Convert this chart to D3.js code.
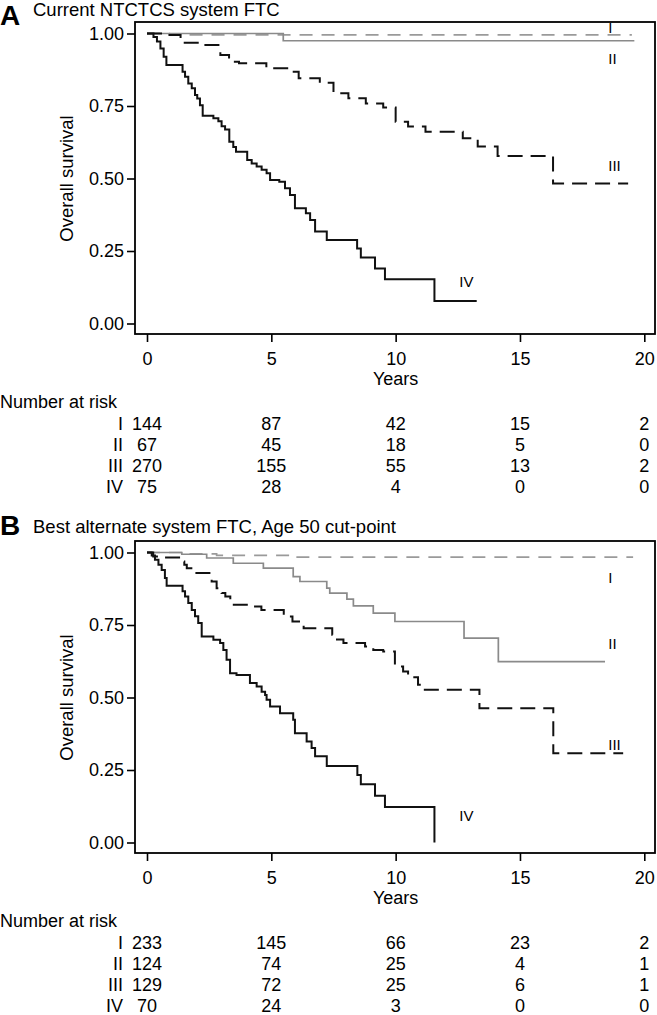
<!DOCTYPE html>
<html><head><meta charset="utf-8">
<script src="https://cdn.jsdelivr.net/npm/d3@7"></script>
<style>
html,body{margin:0;padding:0;background:#fff;}
svg{display:block;}
text{font-family:"Liberation Sans",Arial,Helvetica,sans-serif;fill:#000;}
</style></head><body>
<svg id="c" width="657" height="1015"></svg>
<script>
// ---- data ----
const yearTicks = [0, 5, 10, 15, 20];
const survTicks = [0, 0.25, 0.5, 0.75, 1];
const groups = ["I", "II", "III", "IV"];
const titleA = "Current NTCTCS system FTC";
const titleB = "Best alternate system FTC, Age 50 cut-point";
const xTitle = "Years";
const yTitle = "Overall survival";
const riskTitle = "Number at risk";

// Kaplan–Meier steps: [years, survival]
const A_I = [[0,1],[0.9,0.995],[19.5,0.995]];
const A_II = [[0,1],[5.48,0.975],[19.6,0.975]];
const A_III = [[0,1],[0.8,0.995],[1.35,0.968],[2.1,0.96],[2.95,0.926],[3.3,0.903],[3.7,0.897],[4.8,0.88],[5.75,0.868],[6.1,0.846],[6.95,0.83],[7.5,0.794],[8.1,0.777],[8.8,0.759],[9.5,0.745],[10.0,0.696],[10.5,0.679],[11.2,0.661],[12.7,0.639],[13.3,0.61],[14.1,0.578],[16.33,0.483],[19.35,0.483]];
const A_IV = [[0,1],[0.26,0.988],[0.4,0.972],[0.54,0.948],[0.67,0.92],[0.78,0.891],[1.43,0.868],[1.53,0.851],[1.66,0.828],[1.8,0.811],[1.93,0.788],[2.02,0.776],[2.13,0.753],[2.24,0.716],[2.67,0.708],[2.87,0.697],[3.0,0.68],[3.14,0.669],[3.31,0.627],[3.47,0.609],[3.58,0.592],[4.03,0.564],[4.21,0.552],[4.41,0.541],[4.61,0.53],[4.81,0.518],[4.95,0.495],[5.32,0.489],[5.55,0.466],[5.75,0.443],[5.95,0.397],[6.39,0.38],[6.56,0.357],[6.76,0.317],[7.23,0.288],[8.45,0.259],[8.6,0.228],[9.17,0.19],[9.57,0.153],[11.56,0.078],[13.26,0.078]];

const B_I = [[0,1],[1.5,0.995],[2.8,0.99],[5.8,0.984],[19.55,0.984]];
const B_II = [[0,1],[1.4,0.994],[2.4,0.981],[3.47,0.963],[4.68,0.946],[5.88,0.917],[6.15,0.9],[7.23,0.877],[7.35,0.86],[8.04,0.839],[8.3,0.816],[9.1,0.791],[9.97,0.762],[12.75,0.705],[14.13,0.624],[18.42,0.624]];
const B_III = [[0,1],[0.25,0.986],[0.55,0.983],[1.39,0.969],[1.5,0.958],[1.6,0.946],[1.9,0.929],[2.6,0.9],[2.8,0.877],[3.0,0.86],[3.15,0.848],[3.35,0.82],[4.2,0.814],[4.6,0.802],[5.5,0.779],[5.85,0.762],[6.3,0.739],[7.45,0.716],[7.6,0.70],[7.9,0.688],[8.77,0.676],[9.1,0.664],[9.5,0.659],[9.97,0.607],[10.3,0.59],[10.5,0.57],[10.9,0.544],[11.1,0.527],[13.37,0.463],[16.34,0.308],[19.15,0.308]];
const B_IV = [[0,1],[0.19,0.99],[0.32,0.975],[0.46,0.958],[0.59,0.94],[0.72,0.912],[0.79,0.885],[1.43,0.866],[1.53,0.848],[1.66,0.826],[1.8,0.802],[1.93,0.78],[2.06,0.757],[2.2,0.71],[2.67,0.699],[2.94,0.688],[3.07,0.664],[3.2,0.63],[3.34,0.584],[3.6,0.578],[4.14,0.55],[4.41,0.538],[4.61,0.52],[4.75,0.509],[4.81,0.492],[4.95,0.469],[5.35,0.446],[5.88,0.423],[5.95,0.377],[6.42,0.348],[6.62,0.326],[6.76,0.297],[7.23,0.264],[8.46,0.233],[8.6,0.201],[9.17,0.161],[9.57,0.122],[11.56,0]];

// Number at risk at 0,5,10,15,20 years
const riskA_I = [144, 87, 42, 15, 2];
const riskA_II = [67, 45, 18, 5, 0];
const riskA_III = [270, 155, 55, 13, 2];
const riskA_IV = [75, 28, 4, 0, 0];
const riskB_I = [233, 145, 66, 23, 2];
const riskB_II = [124, 74, 25, 4, 1];
const riskB_III = [129, 72, 25, 6, 1];
const riskB_IV = [70, 24, 3, 0, 0];

// ---- drawing ----
const styles = {
  I:   {stroke: "#9a9a9a", dash: "13,9", width: 1.7},
  II:  {stroke: "#8a8a8a", dash: null, width: 1.7},
  III: {stroke: "#111", dash: "15,8", width: 2},
  IV:  {stroke: "#111", dash: null, width: 2}
};

const panels = [
  {letter: "A", title: titleA, dy: 0, letterY: 25, titleY: 16,
   curves: [A_I, A_II, A_III, A_IV],
   risk: [riskA_I, riskA_II, riskA_III, riskA_IV],
   labels: [[18.55, 1.0007], [18.55, 0.895], [18.55, 0.526], [12.56, 0.125]]},
  {letter: "B", title: titleB, dy: 519, letterY: 16, titleY: 14,
   curves: [B_I, B_II, B_III, B_IV],
   risk: [riskB_I, riskB_II, riskB_III, riskB_IV],
   labels: [[18.55, 0.894], [18.55, 0.667], [18.55, 0.32], [12.56, 0.075]]}
];

const svg = d3.select("#c");
const FS = 18;

panels.forEach(p => {
  const g = svg.append("g").attr("transform", `translate(0,${p.dy})`);
  const x = d3.scaleLinear().domain([0, 20]).range([147, 644.3]);
  const y = d3.scaleLinear().domain([0, 1]).range([323.5, 33.5]);

  // letter + title
  g.append("text").attr("x", 0).attr("y", p.letterY)
    .style("font-size", "28px").style("font-weight", "bold").text(p.letter);
  g.append("text").attr("x", 33).attr("y", p.titleY)
    .style("font-size", "18.5px").text(p.title);

  // frame
  g.append("rect").attr("x", 135).attr("y", 22).attr("width", 520).attr("height", 312)
    .attr("fill", "none").attr("stroke", "#000").attr("stroke-width", 1.8);

  // axes
  const xa = g.append("g").attr("transform", "translate(0,334)")
    .call(d3.axisBottom(x).tickValues(yearTicks).tickSize(8).tickPadding(10).tickFormat(d3.format("d")));
  const ya = g.append("g").attr("transform", "translate(135,0)")
    .call(d3.axisLeft(y).tickValues(survTicks).tickSize(8).tickPadding(3).tickFormat(d3.format(".2f")));
  [xa, ya].forEach(a => {
    a.select(".domain").remove();
    a.selectAll("line").attr("stroke", "#000").attr("stroke-width", 1.6);
    a.selectAll("text").style("font-size", FS + "px")
      .style("font-family", '"Liberation Sans",Arial,sans-serif').attr("fill", "#000");
  });

  g.append("text").attr("x", x(10)).attr("y", 385).attr("text-anchor", "middle")
    .style("font-size", FS + "px").text(xTitle);
  g.append("text").attr("transform", `translate(73,${y(0.5)}) rotate(-90)`)
    .attr("text-anchor", "middle").style("font-size", "18.5px").text(yTitle);

  // curves
  const line = d3.line().x(d => x(d[0])).y(d => y(d[1])).curve(d3.curveStepAfter);
  p.curves.forEach((c, i) => {
    const s = styles[groups[i]];
    g.append("path").datum(c).attr("d", line).attr("fill", "none")
      .attr("stroke", s.stroke).attr("stroke-width", s.width)
      .attr("stroke-dasharray", s.dash);
  });

  // curve labels
  p.labels.forEach((l, i) => {
    g.append("text").attr("x", x(l[0])).attr("y", y(l[1]))
      .style("font-size", "15px").text(groups[i]);
  });

  // number at risk
  g.append("text").attr("x", 0).attr("y", 408).style("font-size", FS + "px").text(riskTitle);
  p.risk.forEach((row, i) => {
    const yy = 430 + i * 21.1;
    g.append("text").attr("x", 123).attr("y", yy).attr("text-anchor", "end")
      .style("font-size", FS + "px").text(groups[i]);
    row.forEach((v, j) => {
      g.append("text").attr("x", x(yearTicks[j])).attr("y", yy).attr("text-anchor", "middle")
        .style("font-size", FS + "px").text(v);
    });
  });
});
</script>
</body></html>
